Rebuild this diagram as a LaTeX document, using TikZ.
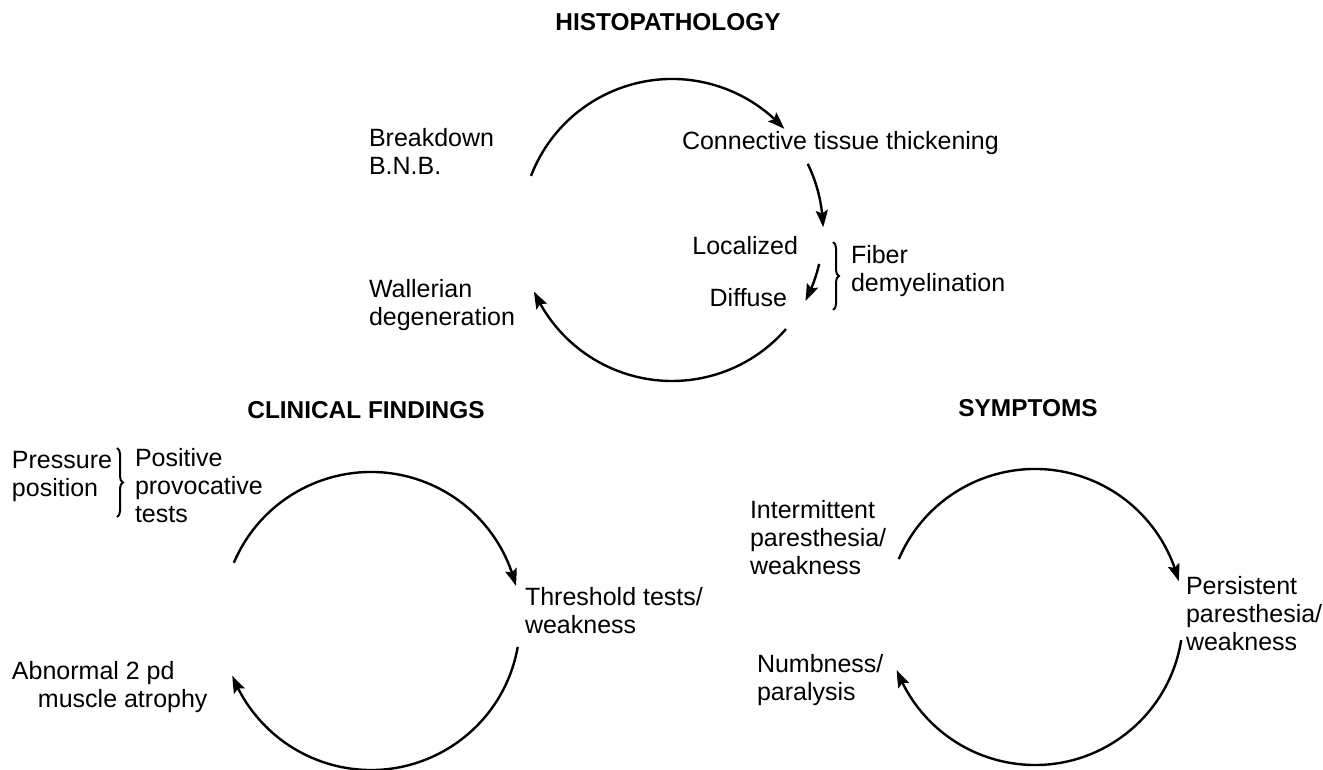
\documentclass[tikz,border=0pt]{standalone}
\usepackage{fontspec}
\setmainfont{Liberation Sans}
\usetikzlibrary{arrows.meta,bending,decorations.pathreplacing}

\begin{document}
\begin{tikzpicture}[x=1pt,y=1pt,>={Stealth[length=17pt,width=12pt,inset=3pt,bend]},
	cyc/.style={line width=2.4pt,->},
	lbl/.style={font=\fontsize{25}{28}\selectfont,inner sep=0pt,outer sep=0pt,align=left,anchor=west},
	head/.style={font=\fontsize{24.4}{28}\selectfont\bfseries,inner sep=0pt},
	brc/.style={decorate,decoration={brace,amplitude=6pt},line width=2pt}]
	\useasboundingbox (0,0) rectangle (1323,769);

	% histopathology
	\node [head] at (668,747) (hist_txt) {HISTOPATHOLOGY};
	\coordinate (hist_c) at (672,539);
	\draw [cyc] ([shift={(159:151)}]hist_c) arc [start angle=159,end angle=42,radius=151];
	\draw [cyc] ([shift={(26:151)}]hist_c) arc [start angle=26,end angle=1,radius=151];
	\draw [cyc] ([shift={(-13:151)}]hist_c) arc [start angle=-13,end angle=-28,radius=151];
	\draw [cyc] ([shift={(-41:151)}]hist_c) arc [start angle=-41,end angle=-156,radius=151];
	\node [lbl] at (369,618) (bnb_txt) {Breakdown\\B.N.B.};
	\node [lbl] at (682,626) (conn_txt) {Connective tissue thickening};
	\node [lbl,anchor=east] at (798,523) (loc_txt) {Localized};
	\node [lbl,anchor=east] at (787,471) (diff_txt) {Diffuse};
	\coordinate (fib_top) at (833,527);
	\coordinate (fib_bot) at (833,459);
	\draw [brc] (fib_top) -- (fib_bot);
	\node [lbl] at (851,498) (fib_txt) {Fiber\\demyelination};
	\node [lbl] at (369,464) (wall_txt) {Wallerian\\degeneration};

	% clinical findings
	\node [head] at (366,359) (clin_txt) {CLINICAL FINDINGS};
	\coordinate (clin_c) at (371,148);
	\draw [cyc] ([shift={(157:149)}]clin_c) arc [start angle=157,end angle=13.6,radius=149];
	\draw [cyc] ([shift={(-10:149)}]clin_c) arc [start angle=-10,end angle=-158.5,radius=149];
	\node [lbl] at (12,293) (pres_txt) {Pressure\\position};
	\coordinate (pres_top) at (117,321);
	\coordinate (pres_bot) at (117,252);
	\draw [brc] (pres_top) -- (pres_bot);
	\node [lbl] at (135,283) (prov_txt) {Positive\\provocative\\tests};
	\node [lbl] at (525,158) (thr_txt) {Threshold tests/\\weakness};
	\node [lbl] at (12,82) (atr_txt) {Abnormal 2 pd\\\hspace*{26pt}muscle atrophy};

	% symptoms
	\node [head] at (1028,361) (symp_txt) {SYMPTOMS};
	\coordinate (symp_c) at (1035,152);
	\draw [cyc] ([shift={(157:148)}]symp_c) arc [start angle=157,end angle=14,radius=148];
	\draw [cyc] ([shift={(-9:148)}]symp_c) arc [start angle=-9,end angle=-159,radius=148];
	\node [lbl] at (750,231) (int_txt) {Intermittent\\paresthesia/\\weakness};
	\node [lbl] at (1186,155) (pers_txt) {Persistent\\paresthesia/\\weakness};
	\node [lbl] at (757,89) (numb_txt) {Numbness/\\paralysis};
\end{tikzpicture}
\end{document}
